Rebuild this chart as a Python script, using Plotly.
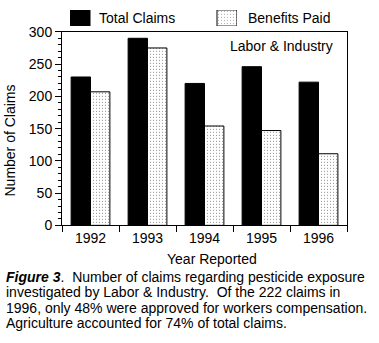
import plotly.graph_objects as go

# Claims data by year
years = ["1992", "1993", "1994", "1995", "1996"]
total_claims = [230, 290, 220, 246, 222]
benefits_paid = [207, 275, 154, 147, 111]
y_ticks = [0, 50, 100, 150, 200, 250, 300]
series_names = ["Total Claims", "Benefits Paid"]
caption_lines = [
    "<b><i>Figure 3</i></b>.  Number of claims regarding pesticide exposure",
    "investigated by Labor &amp; Industry.  Of the 222 claims in",
    "1996, only 48% were approved for workers compensation.",
    "Agriculture accounted for 74% of total claims.",
]

W, H = 379, 343
FONT = "Liberation Sans, Arial, Helvetica, sans-serif"
DOTS = dict(shape=".", fgcolor="black", bgcolor="white", size=3, solidity=0.12)


def px_x(x):
    return x / W


def px_y(y):
    return 1 - y / H


fig = go.Figure()

fig.add_trace(go.Bar(
    x=years, y=total_claims, name=series_names[0],
    marker=dict(color="black", line=dict(color="black", width=1)),
    showlegend=False,
))
fig.add_trace(go.Bar(
    x=years, y=benefits_paid, name=series_names[1],
    marker=dict(color="white", line=dict(color="black", width=1), pattern=DOTS),
    showlegend=False,
))

# legend swatches on a small auxiliary axis above the plot
fig.add_trace(go.Bar(
    x=[10, 157], y=[1, 1], width=[20, 20],
    xaxis="x2", yaxis="y2", showlegend=False, hoverinfo="skip",
    marker=dict(color=["black", "white"], line=dict(color="black", width=1),
                pattern=dict(DOTS, shape=["", "."])),
))

fig.update_layout(
    width=W, height=H,
    margin=dict(l=0, r=0, t=0, b=0),
    paper_bgcolor="white", plot_bgcolor="white",
    barmode="group", bargap=0.32, bargroupgap=0,
    font=dict(family=FONT, size=14, color="black"),
    xaxis=dict(
        domain=[px_x(62), px_x(347)],
        type="category", tickson="boundaries",
        ticks="outside", ticklen=6, tickwidth=1, tickcolor="black",
        showline=True, linecolor="black", linewidth=1, mirror=True,
        showgrid=False, zeroline=False,
        tickfont=dict(size=14),
    ),
    yaxis=dict(
        domain=[px_y(228), px_y(25)],
        range=[0, 300], tickvals=y_ticks,
        ticks="outside", ticklen=6, tickwidth=1, tickcolor="black",
        minor=dict(dtick=10, ticks="outside", ticklen=3, tickcolor="black", showgrid=False),
        showline=True, linecolor="black", linewidth=1, mirror=True,
        showgrid=False, zeroline=False,
        tickfont=dict(size=14),
    ),
    xaxis2=dict(domain=[px_x(70), px_x(237)], range=[0, 167], visible=False,
                anchor="y2", fixedrange=True),
    yaxis2=dict(domain=[px_y(19), px_y(2)], range=[0, 1], visible=False,
                anchor="x2", fixedrange=True),
)

# caption: 14px glyphs on a tighter line pitch set by the annotation font size
caption = "<br>".join('<span style="font-size:14px">%s</span>' % s for s in caption_lines)

annotations = [
    dict(text=series_names[0], x=px_x(97), y=px_y(10.5), xanchor="left", yanchor="middle"),
    dict(text=series_names[1], x=px_x(246), y=px_y(10.5), xanchor="left", yanchor="middle"),
    dict(text="Labor & Industry", x=px_x(335), y=px_y(40), xanchor="right", yanchor="middle"),
    dict(text="Number of Claims", x=px_x(10), y=px_y(139), textangle=-90,
         xanchor="center", yanchor="middle"),
    dict(text="Year Reported", x=px_x(212), y=px_y(263), xanchor="center", yanchor="middle"),
]
for a in annotations:
    a.update(font=dict(size=14))
annotations.append(dict(text=caption, x=px_x(4), y=px_y(306), xanchor="left",
                        yanchor="middle", align="left", font=dict(size=11.8)))
for a in annotations:
    a.update(xref="paper", yref="paper", showarrow=False)
fig.update_layout(annotations=annotations)

fig.write_html("out.html")
